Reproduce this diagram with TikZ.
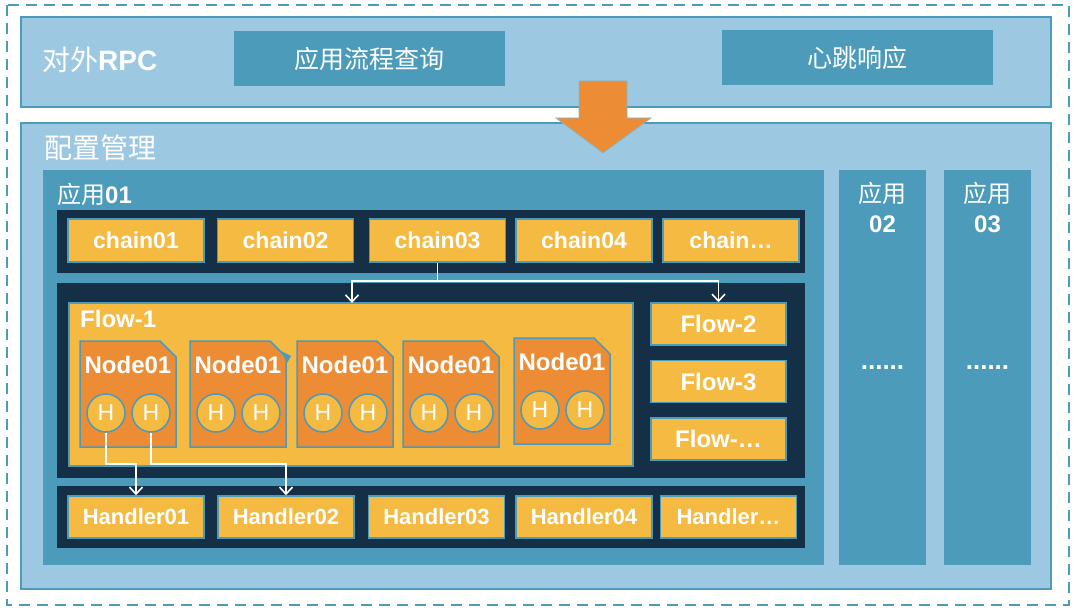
\documentclass[tikz,border=0pt]{standalone}
\usepackage{fontspec}
\setmainfont{Liberation Sans}
\newfontfamily\cjk{Noto Sans CJK SC}
\usetikzlibrary{arrows.meta,calc}
\definecolor{lb}{HTML}{9DC8E2}
\definecolor{mb}{HTML}{4C9BBA}
\definecolor{navy}{HTML}{142F46}
\definecolor{yel}{HTML}{F4BA42}
\definecolor{org}{HTML}{EC8C35}
\begin{document}
\begin{tikzpicture}[x=1pt,y=-1pt,
  panel/.style={fill=lb,draw=mb,line width=1.5pt},
  appbox/.style={fill=mb},
  darkbox/.style={fill=navy},
  ybox/.style={fill=yel,draw=mb,line width=1.5pt,minimum width=136pt,minimum height=43pt,inner sep=0pt,text=white,font=\bfseries\fontsize{23}{26}\selectfont},
  hbox/.style={ybox,minimum height=42pt,font=\bfseries\fontsize{22}{26}\selectfont},
  fbox/.style={ybox,minimum width=135pt,minimum height=42pt,font=\bfseries\fontsize{24}{26}\selectfont},
  rpcbox/.style={fill=mb,minimum height=55pt,minimum width=271pt,inner sep=0pt,text=white,font=\cjk\fontsize{25}{28}\selectfont},
  nshape/.style={fill=org,draw=mb,line width=1.5pt},
  ntext/.style={text=white,inner sep=0pt,font=\bfseries\fontsize{24}{26}\selectfont},
  hcirc/.style={circle,fill=yel,draw=mb,line width=1.5pt,minimum size=38pt,inner sep=0pt,text=white,font=\fontsize{23}{24}\selectfont},
  title/.style={text=white,inner sep=0pt,anchor=west},
  wire/.style={draw=white,line width=1.6pt,-{Straight Barb[length=7pt,width=13pt,line width=1.6pt]}}
]
\useasboundingbox[fill=white] (0,0) rectangle (1080,615);
% outer dashed frame
\draw[mb,line width=2pt,dash pattern=on 11pt off 7pt] (7,5) rectangle (1069,605);
% RPC panel
\draw[panel] (21,17) rectangle (1051,107);
\node[title,font=\fontsize{28}{30}\selectfont] (rpct) at (42,60) {{\cjk 对外}\textbf{RPC}};
\node[rpcbox] (q1) at (369.5,58.5) {应用流程查询};
\node[rpcbox] (q2) at (857.5,58) {心跳响应};
% config panel
\draw[panel] (21,123) rectangle (1051,589);
\node[title,font=\cjk\fontsize{28}{30}\selectfont] (cfgt) at (44,148) {配置管理};
% app panels
\fill[appbox] (43,170) rectangle (824,565);
\fill[appbox] (839,170) rectangle (926,565);
\fill[appbox] (944,170) rectangle (1031,565);
\node[title,font=\fontsize{24}{26}\selectfont] (a1t) at (57,194) {{\cjk 应用}\textbf{01}};
\node[text=white,inner sep=0pt,font=\cjk\fontsize{24}{26}\selectfont] (a2t) at (882.5,193) {应用};
\node[text=white,inner sep=0pt,font=\bfseries\fontsize{24}{26}\selectfont] (a2n) at (882.5,224) {02};
\node[text=white,inner sep=0pt,font=\bfseries\fontsize{26}{26}\selectfont] (a2d) at (882.5,368) {......};
\node[text=white,inner sep=0pt,font=\cjk\fontsize{24}{26}\selectfont] (a3t) at (987.5,193) {应用};
\node[text=white,inner sep=0pt,font=\bfseries\fontsize{24}{26}\selectfont] (a3n) at (987.5,224) {03};
\node[text=white,inner sep=0pt,font=\bfseries\fontsize{26}{26}\selectfont] (a3d) at (987.5,368) {......};
% big orange arrow
\draw[fill=org,draw=mb!70,line width=0.8pt] (579,81) -- (627,81) -- (627,118) -- (651,118) -- (603,153) -- (556,118) -- (579,118) -- cycle;
% dark rows
\fill[darkbox] (57,210) rectangle (805,273);
\fill[darkbox] (57,283) rectangle (805,478);
\fill[darkbox] (57,486) rectangle (805,548);
% chains
\node[ybox] (c1) at (136,240.5) {chain01};
\node[ybox] (c2) at (285.5,240.5) {chain02};
\node[ybox] (c3) at (437.5,240.5) {chain03};
\node[ybox] (c4) at (584,240.5) {chain04};
\node[ybox] (c5) at (731,240.5) {chain…};
% flows
\node[ybox,minimum width=564pt,minimum height=163pt] (f1) at (351,384.5) {};
\node[ntext,anchor=west] (f1t) at (80,319) {Flow-1};
\node[fbox] (f2) at (718.5,324) {Flow-2};
\node[fbox] (f3) at (718.5,381.5) {Flow-3};
\node[fbox] (f4) at (718.5,439) {Flow-…};
% handlers
\node[hbox] (hd1) at (136,517) {Handler01};
\node[hbox] (hd2) at (286,517) {Handler02};
\node[hbox] (hd3) at (436.5,517) {Handler03};
\node[hbox] (hd4) at (584,517) {Handler04};
\node[hbox] (hd5) at (728.5,517) {Handler…};
% node shapes
\foreach \x/\y [count=\i] in {80/341,190/341,297/341,403/341,514/338}{
  \draw[nshape] (\x,\y) -- ++(80,0) -- ++(16,16) -- (\x+96,\y+106) -- (\x,\y+106) -- cycle;
  \node[ntext] (n\i) at (\x+48,\y+24) {Node01};
  \node[hcirc] (h\i-a) at (\x+26,\y+72) {H};
  \node[hcirc] (h\i-b) at (\x+71,\y+72) {H};
}
\fill[mb] (281,351) -- (291,356) -- (287,363) -- cycle;
% connectors
\coordinate (j) at (437.5,281);
\coordinate (f1in) at (352,303);
\coordinate (hy) at (0,464);
\draw[wire] (c3.south) -- (j) -| (f2.north);
\draw[wire] (j) -| (f1in);
\draw[wire] (h1-a.south) -- (h1-a.south |- hy) -| (hd1.north);
\draw[wire] (h1-b.south) -- (h1-b.south |- hy) -| (hd2.north);
\end{tikzpicture}
\end{document}
